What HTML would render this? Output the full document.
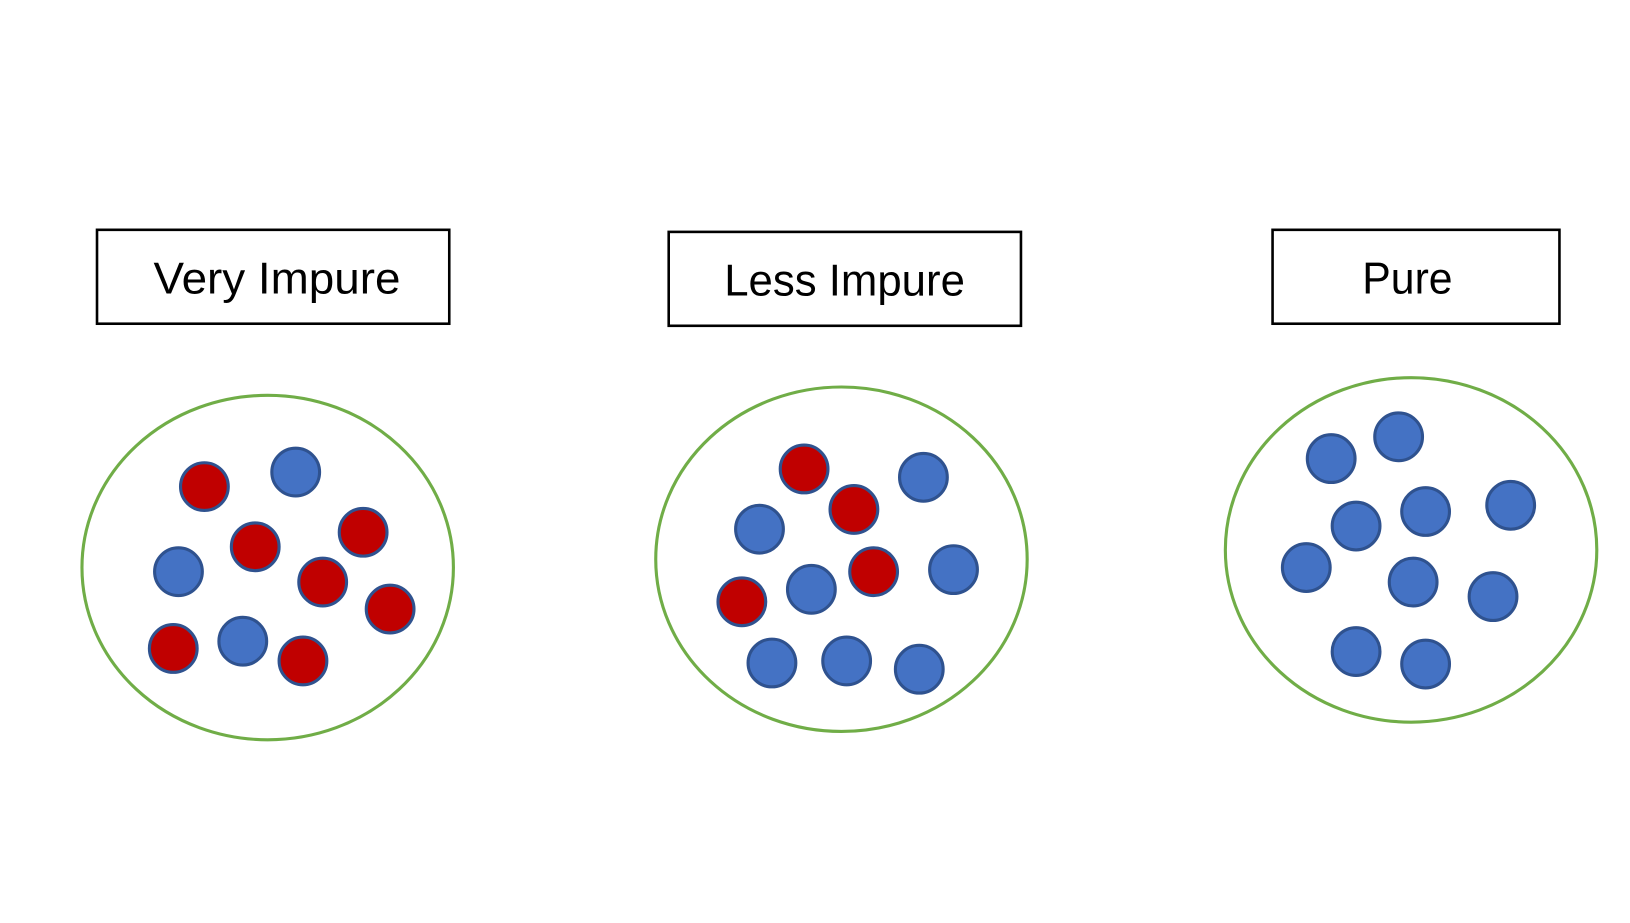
<!DOCTYPE html>
<html><head><meta charset="utf-8"><style>html,body{margin:0;padding:0;background:#fff;}svg{display:block;}</style></head>
<body>
<svg width="1630" height="923" viewBox="0 0 1571 889.6" preserveAspectRatio="none" xmlns="http://www.w3.org/2000/svg">
<rect width="1571" height="890" fill="#fff"/>
<g transform="translate(2,1)">
<g fill="#fff" stroke="#000" stroke-width="2.5">
<rect x="91.5" y="220.5" width="339.5" height="90.5"/>
<rect x="642.5" y="222.5" width="339.5" height="90.5"/>
<rect x="1224.5" y="220.5" width="276.5" height="90.5"/>
</g>
<g font-family="Liberation Sans, sans-serif" font-size="43" fill="#000">
<text x="146" y="282" textLength="238" lengthAdjust="spacingAndGlyphs">Very Impure</text>
<text x="696" y="284" textLength="232" lengthAdjust="spacingAndGlyphs">Less Impure</text>
<text x="1311" y="282" textLength="87" lengthAdjust="spacingAndGlyphs">Pure</text>
</g>
<g fill="none" stroke="#70ad47" stroke-width="3">
<ellipse cx="256" cy="546" rx="179" ry="166"/>
<ellipse cx="809" cy="538" rx="179" ry="166"/>
<ellipse cx="1358" cy="529" rx="179" ry="166"/>
</g>
<g stroke="#2f528f" stroke-width="3" fill="#c00000">
<circle cx="195" cy="468" r="23"/><circle cx="244" cy="526" r="23"/><circle cx="348" cy="512" r="23"/>
<circle cx="309" cy="560" r="23"/><circle cx="374" cy="586" r="23"/><circle cx="165" cy="624" r="23"/>
<circle cx="290" cy="636" r="23"/>
<circle cx="773" cy="451" r="23"/><circle cx="821" cy="490" r="23"/><circle cx="840" cy="550" r="23"/><circle cx="713" cy="579" r="23"/>
</g>
<g stroke="#2f528f" stroke-width="3" fill="#4472c4">
<circle cx="283" cy="454" r="23"/><circle cx="170" cy="550" r="23"/><circle cx="232" cy="617" r="23"/>
<circle cx="888" cy="459" r="23"/><circle cx="730" cy="509" r="23"/><circle cx="917" cy="548" r="23"/>
<circle cx="780" cy="567" r="23"/><circle cx="742" cy="638" r="23"/><circle cx="814" cy="636" r="23"/><circle cx="884" cy="644" r="23"/>
<circle cx="1281" cy="441" r="23"/><circle cx="1346" cy="420" r="23"/><circle cx="1305" cy="506" r="23"/>
<circle cx="1372" cy="492" r="23"/><circle cx="1454" cy="486" r="23"/><circle cx="1257" cy="546" r="23"/>
<circle cx="1360" cy="560" r="23"/><circle cx="1437" cy="574" r="23"/><circle cx="1305" cy="627" r="23"/>
<circle cx="1372" cy="639" r="23"/>
</g>
</g>
</svg>
</body></html>
